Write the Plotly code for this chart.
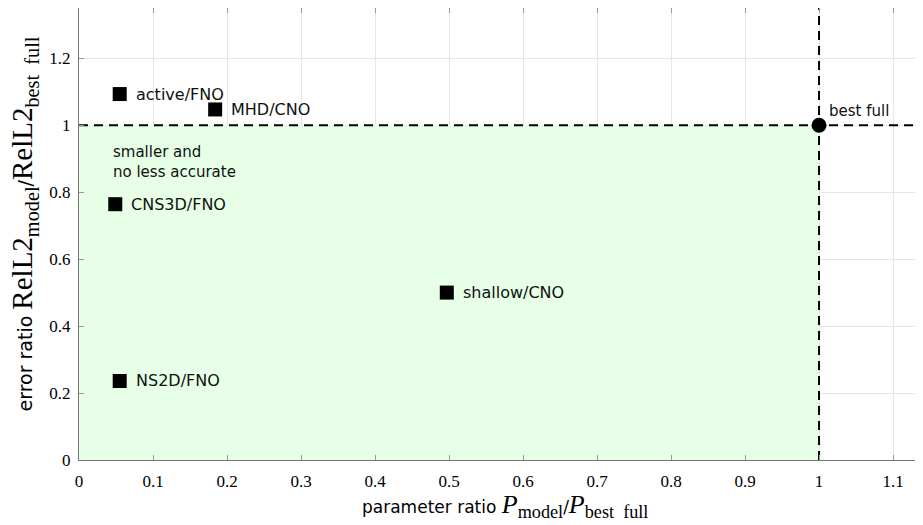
import plotly.graph_objects as go

# data
labels = ["active/FNO", "MHD/CNO", "CNS3D/FNO", "NS2D/FNO", "shallow/CNO"]
param_ratio = [0.055, 0.184, 0.049, 0.055, 0.497]
error_ratio = [1.093, 1.047, 0.764, 0.236, 0.500]
ref_label = "best full"
ref_x = [1.0]
ref_y = [1.0]
region_text = "smaller and<br>no less accurate"
region_pos = (0.043, 0.89)

x_ticks = [0, 0.1, 0.2, 0.3, 0.4, 0.5, 0.6, 0.7, 0.8, 0.9, 1, 1.1]
x_ticktext = ["0", "0.1", "0.2", "0.3", "0.4", "0.5", "0.6", "0.7", "0.8", "0.9", "1", "1.1"]
y_ticks = [0, 0.2, 0.4, 0.6, 0.8, 1, 1.2]
y_ticktext = ["0", "0.2", "0.4", "0.6", "0.8", "1", "1.2"]
x_range = [0, 1.1405]
y_range = [0, 1.35]

SANS = "DejaVu Sans"
SERIF = "Liberation Serif"
DASH = dict(color="black", width=2, dash="9px,6px")
MX = '<span style="font-family:Liberation Serif;font-size:26px">'
MY = '<span style="font-family:Liberation Serif;font-size:29px">'

fig = go.Figure()

# shaded "smaller and no less accurate" region
fig.add_shape(type="rect", x0=0, x1=ref_x[0], y0=0, y1=ref_y[0],
              xref="x", yref="y", fillcolor="#e6ffe6", line_width=0, layer="between")

# dashed reference lines (as traces)
fig.add_trace(go.Scatter(x=[x_range[0], x_range[1]], y=[ref_y[0], ref_y[0]], mode="lines",
                         line=DASH, showlegend=False, hoverinfo="skip", cliponaxis=False))
fig.add_trace(go.Scatter(x=[ref_x[0], ref_x[0]], y=[y_range[0], y_range[1]], mode="lines",
                         line=DASH, showlegend=False, hoverinfo="skip", cliponaxis=False))

fig.add_trace(go.Scatter(x=param_ratio, y=error_ratio, mode="markers",
                         marker=dict(symbol="square", size=14, color="black"),
                         showlegend=False, hoverinfo="skip"))
fig.add_trace(go.Scatter(x=ref_x, y=ref_y, mode="markers",
                         marker=dict(symbol="circle", size=15, color="black"),
                         showlegend=False, hoverinfo="skip"))

for lab, xv, yv in zip(labels, param_ratio, error_ratio):
    fig.add_annotation(x=xv, y=yv, text=lab, showarrow=False, xanchor="left", yanchor="middle",
                       xshift=14, font=dict(family=SANS, size=16, color="#111"))
fig.add_annotation(x=ref_x[0], y=ref_y[0], text=ref_label, showarrow=False, xanchor="left",
                   yanchor="middle", xshift=8, yshift=14, font=dict(family=SANS, size=15, color="#111"))
fig.add_annotation(x=region_pos[0], y=region_pos[1], text=region_text, showarrow=False,
                   xanchor="left", yanchor="middle", align="left",
                   font=dict(family=SANS, size=15, color="#111"))

# axis titles
fig.add_annotation(xref="paper", yref="paper", x=(505 - 79) / 844, y=0.0, yshift=-46,
                   text='parameter ratio ' + MX + '<i>P</i><sub>model</sub></span>/'
                        + MX + '<i>P</i><sub>best&nbsp; full</sub></span>',
                   showarrow=False, xanchor="center", yanchor="middle",
                   font=dict(family=SANS, size=17, color="black"))
fig.add_annotation(xref="paper", yref="paper", x=0, xshift=-55, y=(460 - 224) / 453,
                   text='error ratio ' + MY + 'RelL2<sub>model</sub></span>/'
                        + MY + 'RelL2<sub>best&nbsp; full</sub></span>',
                   showarrow=False, textangle=-90, xanchor="center", yanchor="middle",
                   font=dict(family=SANS, size=19, color="black"))

axis_common = dict(showgrid=True, gridcolor="#e6e6e6", gridwidth=1, zeroline=False,
                   showline=True, linecolor="#777", linewidth=1, ticks="inside",
                   ticklen=5, tickcolor="#999", tickfont=dict(family=SERIF, size=17, color="black"))
fig.update_xaxes(range=x_range, tickvals=x_ticks, ticktext=x_ticktext, mirror="ticks",
                 ticklabelstandoff=6, **axis_common)
fig.update_yaxes(range=y_range, tickvals=y_ticks, ticktext=y_ticktext, mirror=False,
                 ticklabelstandoff=4, **axis_common)

# page body has an 8px margin; compensate so the plot area sits where the reference has it
fig.update_layout(width=915, height=517, margin=dict(l=71, r=0, t=0, b=65),
                  plot_bgcolor="white", paper_bgcolor="white")

fig.write_html("out.html")
